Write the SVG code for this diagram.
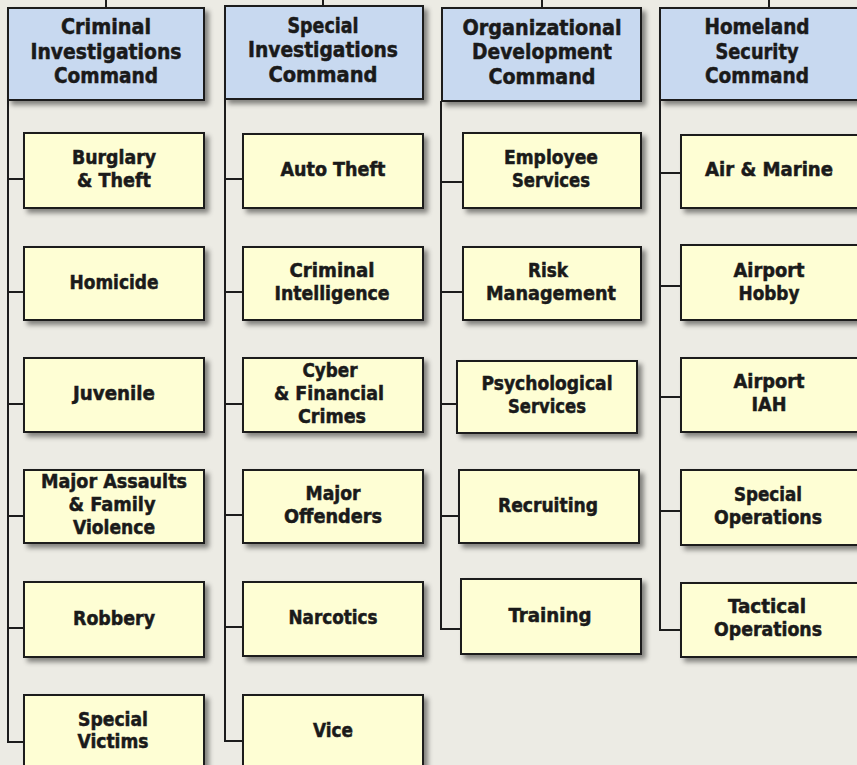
<svg xmlns="http://www.w3.org/2000/svg" width="857" height="765" viewBox="0 0 857 765">
<defs>
<filter id="sh" x="-10%" y="-10%" width="130%" height="140%">
<feDropShadow dx="4" dy="4" stdDeviation="2.5" flood-color="#000" flood-opacity="0.45"/>
</filter>
<style>
.hd{fill:#c8d9f0;stroke:#1c1c1c;stroke-width:2;filter:url(#sh)}
.bx{fill:#fefed4;stroke:#1c1c1c;stroke-width:2;filter:url(#sh)}
text{font-family:"DejaVu Sans Condensed","DejaVu Sans","Liberation Sans",sans-serif;font-weight:bold;fill:#1a1a1a;stroke:#1a1a1a;stroke-width:0.5;text-anchor:middle;font-stretch:condensed}
.ht{font-size:22px}
.ct{font-size:20px}
.cn{fill:none;stroke:#1c1c1c;stroke-width:2}
</style>
</defs>
<rect x="0" y="0" width="857" height="765" fill="#ecebe4"/>
<g id="connectors" class="cn">
<path d="M106 0V8M323 0V6M542 0V8M769 0V8"/>
<path d="M8 100V742H24M8 179H24M8 292H24M8 404H24M8 516H24M8 628H24"/>
<path d="M225 99V741H243M225 179H243M225 292H243M225 404H243M225 515H243M225 627H243"/>
<path d="M441 101V629H461M441 182H463M441 292H463M441 404H457M441 516H459"/>
<path d="M660 100V630H681M660 173H681M660 286H681M660 397H681M660 511H681"/>
</g>
<g id="cic">
<rect class="hd" x="8" y="8" width="196" height="92"/>
<text class="ht" x="106" y="34" textLength="90" lengthAdjust="spacingAndGlyphs">Criminal</text>
<text class="ht" x="106" y="58.5" textLength="151" lengthAdjust="spacingAndGlyphs">Investigations</text>
<text class="ht" x="106" y="83" textLength="104" lengthAdjust="spacingAndGlyphs">Command</text>
</g>
<g id="sic">
<rect class="hd" x="225" y="6" width="198" height="93"/>
<text class="ht" x="323" y="32.5" textLength="71" lengthAdjust="spacingAndGlyphs">Special</text>
<text class="ht" x="323" y="57" textLength="150" lengthAdjust="spacingAndGlyphs">Investigations</text>
<text class="ht" x="323" y="81.5" textLength="109" lengthAdjust="spacingAndGlyphs">Command</text>
</g>
<g id="odc">
<rect class="hd" x="442" y="8" width="199" height="93"/>
<text class="ht" x="542" y="34.5" textLength="159" lengthAdjust="spacingAndGlyphs">Organizational</text>
<text class="ht" x="542" y="59" textLength="140" lengthAdjust="spacingAndGlyphs">Development</text>
<text class="ht" x="542" y="83.5" textLength="107" lengthAdjust="spacingAndGlyphs">Command</text>
</g>
<g id="hsc">
<rect class="hd" x="660" y="8" width="210" height="92"/>
<text class="ht" x="757" y="34" textLength="105" lengthAdjust="spacingAndGlyphs">Homeland</text>
<text class="ht" x="757" y="58.5" textLength="83" lengthAdjust="spacingAndGlyphs">Security</text>
<text class="ht" x="757" y="83" textLength="104" lengthAdjust="spacingAndGlyphs">Command</text>
</g>
<g id="burglary">
<rect class="bx" x="24" y="133" width="180" height="75"/>
<text class="ct" x="114" y="163.5" textLength="84" lengthAdjust="spacingAndGlyphs">Burglary</text>
<text class="ct" x="114" y="186.5" textLength="74" lengthAdjust="spacingAndGlyphs">&amp; Theft</text>
</g>
<g id="homicide">
<rect class="bx" x="24" y="247" width="180" height="73"/>
<text class="ct" x="114" y="288.5" textLength="89" lengthAdjust="spacingAndGlyphs">Homicide</text>
</g>
<g id="juvenile">
<rect class="bx" x="24" y="358" width="180" height="74"/>
<text class="ct" x="114" y="400" textLength="82" lengthAdjust="spacingAndGlyphs">Juvenile</text>
</g>
<g id="major-assaults">
<rect class="bx" x="24" y="470" width="180" height="73"/>
<text class="ct" x="114" y="488" textLength="146" lengthAdjust="spacingAndGlyphs">Major Assaults</text>
<text class="ct" x="112" y="511" textLength="87" lengthAdjust="spacingAndGlyphs">&amp; Family</text>
<text class="ct" x="114" y="534" textLength="82" lengthAdjust="spacingAndGlyphs">Violence</text>
</g>
<g id="robbery">
<rect class="bx" x="24" y="582" width="180" height="75"/>
<text class="ct" x="114" y="624.5" textLength="82" lengthAdjust="spacingAndGlyphs">Robbery</text>
</g>
<g id="special-victims">
<rect class="bx" x="24" y="695" width="180" height="75"/>
<text class="ct" x="113" y="725.5" textLength="70" lengthAdjust="spacingAndGlyphs">Special</text>
<text class="ct" x="113" y="748" textLength="71" lengthAdjust="spacingAndGlyphs">Victims</text>
</g>
<g id="auto-theft">
<rect class="bx" x="243" y="134" width="180" height="74"/>
<text class="ct" x="333" y="175.5" textLength="105" lengthAdjust="spacingAndGlyphs">Auto Theft</text>
</g>
<g id="criminal-intelligence">
<rect class="bx" x="243" y="247" width="180" height="73"/>
<text class="ct" x="332" y="277" textLength="85" lengthAdjust="spacingAndGlyphs">Criminal</text>
<text class="ct" x="332" y="300" textLength="115" lengthAdjust="spacingAndGlyphs">Intelligence</text>
</g>
<g id="cyber">
<rect class="bx" x="243" y="358" width="180" height="74"/>
<text class="ct" x="330" y="377" textLength="55" lengthAdjust="spacingAndGlyphs">Cyber</text>
<text class="ct" x="329" y="400" textLength="110" lengthAdjust="spacingAndGlyphs">&amp; Financial</text>
<text class="ct" x="332" y="423" textLength="68" lengthAdjust="spacingAndGlyphs">Crimes</text>
</g>
<g id="major-offenders">
<rect class="bx" x="243" y="470" width="180" height="73"/>
<text class="ct" x="333" y="499.5" textLength="55" lengthAdjust="spacingAndGlyphs">Major</text>
<text class="ct" x="333" y="522.5" textLength="98" lengthAdjust="spacingAndGlyphs">Offenders</text>
</g>
<g id="narcotics">
<rect class="bx" x="243" y="582" width="180" height="74"/>
<text class="ct" x="333" y="623.5" textLength="89" lengthAdjust="spacingAndGlyphs">Narcotics</text>
</g>
<g id="vice">
<rect class="bx" x="243" y="695" width="180" height="75"/>
<text class="ct" x="333" y="737" textLength="40" lengthAdjust="spacingAndGlyphs">Vice</text>
</g>
<g id="employee-services">
<rect class="bx" x="463" y="133" width="178" height="75"/>
<text class="ct" x="551" y="164" textLength="94" lengthAdjust="spacingAndGlyphs">Employee</text>
<text class="ct" x="551" y="187" textLength="78" lengthAdjust="spacingAndGlyphs">Services</text>
</g>
<g id="risk-management">
<rect class="bx" x="463" y="247" width="178" height="73"/>
<text class="ct" x="548" y="277" textLength="40" lengthAdjust="spacingAndGlyphs">Risk</text>
<text class="ct" x="551" y="300" textLength="130" lengthAdjust="spacingAndGlyphs">Management</text>
</g>
<g id="psychological-services">
<rect class="bx" x="457" y="361" width="180" height="72"/>
<text class="ct" x="547" y="390" textLength="131" lengthAdjust="spacingAndGlyphs">Psychological</text>
<text class="ct" x="547" y="413" textLength="78" lengthAdjust="spacingAndGlyphs">Services</text>
</g>
<g id="recruiting">
<rect class="bx" x="459" y="470" width="180" height="73"/>
<text class="ct" x="548" y="511.5" textLength="100" lengthAdjust="spacingAndGlyphs">Recruiting</text>
</g>
<g id="training">
<rect class="bx" x="461" y="579" width="180" height="75"/>
<text class="ct" x="550" y="621.5" textLength="83" lengthAdjust="spacingAndGlyphs">Training</text>
</g>
<g id="air-marine">
<rect class="bx" x="681" y="135" width="200" height="73"/>
<text class="ct" x="769" y="176" textLength="128" lengthAdjust="spacingAndGlyphs">Air &amp; Marine</text>
</g>
<g id="airport-hobby">
<rect class="bx" x="681" y="245" width="200" height="75"/>
<text class="ct" x="769" y="277" textLength="71" lengthAdjust="spacingAndGlyphs">Airport</text>
<text class="ct" x="769" y="300" textLength="61" lengthAdjust="spacingAndGlyphs">Hobby</text>
</g>
<g id="airport-iah">
<rect class="bx" x="681" y="358" width="200" height="74"/>
<text class="ct" x="769" y="388" textLength="71" lengthAdjust="spacingAndGlyphs">Airport</text>
<text class="ct" x="769" y="411" textLength="35" lengthAdjust="spacingAndGlyphs">IAH</text>
</g>
<g id="special-operations">
<rect class="bx" x="681" y="470" width="200" height="75"/>
<text class="ct" x="768" y="500.5" textLength="68" lengthAdjust="spacingAndGlyphs">Special</text>
<text class="ct" x="768" y="523.5" textLength="108" lengthAdjust="spacingAndGlyphs">Operations</text>
</g>
<g id="tactical-operations">
<rect class="bx" x="681" y="583" width="200" height="74"/>
<text class="ct" x="767" y="613" textLength="78" lengthAdjust="spacingAndGlyphs">Tactical</text>
<text class="ct" x="768" y="636" textLength="108" lengthAdjust="spacingAndGlyphs">Operations</text>
</g>
</svg>
